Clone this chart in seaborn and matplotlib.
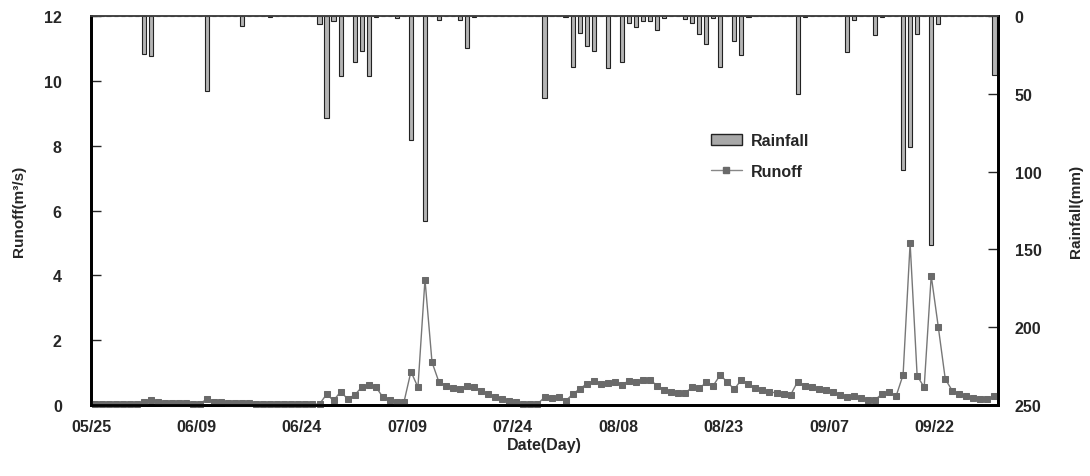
import matplotlib
matplotlib.use("Agg")
import matplotlib.pyplot as plt
from matplotlib.patches import Patch
from matplotlib.lines import Line2D
import seaborn as sns
import numpy as np

# daily series, 05/25 .. 09/30
runoff = [
    0.03, 0.03, 0.03, 0.03, 0.03, 0.03, 0.04, 0.09, 0.17, 0.09,
    0.07, 0.06, 0.05, 0.05, 0.04, 0.04, 0.19, 0.10, 0.08, 0.07,
    0.06, 0.05, 0.05, 0.04, 0.04, 0.04, 0.03, 0.03, 0.03, 0.03,
    0.03, 0.03, 0.03, 0.33, 0.14, 0.41, 0.19, 0.31, 0.55, 0.62,
    0.56, 0.25, 0.14, 0.10, 0.08, 1.03, 0.55, 3.87, 1.32, 0.70,
    0.60, 0.52, 0.49, 0.60, 0.55, 0.44, 0.34, 0.26, 0.19, 0.12,
    0.08, 0.04, 0.03, 0.03, 0.24, 0.21, 0.24, 0.13, 0.33, 0.50,
    0.65, 0.73, 0.65, 0.67, 0.70, 0.62, 0.75, 0.70, 0.78, 0.78,
    0.60, 0.47, 0.41, 0.37, 0.37, 0.55, 0.51, 0.70, 0.60, 0.93,
    0.70, 0.49, 0.78, 0.65, 0.51, 0.47, 0.41, 0.37, 0.34, 0.31,
    0.72, 0.60, 0.55, 0.49, 0.46, 0.41, 0.31, 0.24, 0.29, 0.22,
    0.16, 0.16, 0.34, 0.39, 0.27, 0.93, 4.99, 0.90, 0.55, 3.99,
    2.42, 0.80, 0.44, 0.34, 0.27, 0.22, 0.19, 0.19, 0.27,
]

rainfall = [
    0, 0, 0, 0, 0, 0, 0, 24.4, 25.5, 0,
    0, 0, 0, 0, 0, 0, 48.2, 0, 0, 0,
    0, 6.2, 0, 0, 0, 0.6, 0, 0, 0, 0,
    0, 0, 5.1, 65.3, 3.4, 38.5, 0, 29.3, 22.3, 38.3,
    0.9, 0, 0, 1.5, 0, 79.7, 0, 131.7, 0, 2.8,
    0, 0, 2.4, 20.8, 0.5, 0, 0, 0, 0, 0,
    0, 0, 0, 0, 52.7, 0, 0, 0.5, 33.0, 11.0,
    19.1, 22.3, 0, 33.6, 0, 29.4, 4.5, 7.3, 3.0, 3.4,
    9.0, 1.3, 0, 0, 1.9, 4.5, 11.6, 18.0, 1.3, 32.6,
    0, 15.9, 25.1, 0.5, 0, 0, 0, 0, 0, 0,
    50.1, 0.5, 0, 0, 0, 0, 0, 23.3, 2.4, 0,
    0, 12.0, 0.5, 0, 0, 99.0, 84.4, 11.6, 0, 147.0,
    5.1, 0, 0, 0, 0, 0, 0, 0, 37.9,
]

tick_labels = ["05/25", "06/09", "06/24", "07/09", "07/24",
               "08/08", "08/23", "09/07", "09/22"]

sns.set_style("ticks")
plt.rcParams['font.family'] = ['Liberation Sans', 'DejaVu Sans']
plt.rcParams['font.weight'] = 'bold'

day = np.arange(len(runoff))
xpos = day + 0.5  # category centres

fig = plt.figure(figsize=(10.9, 4.77), dpi=100)
ax = fig.add_axes([0.0835, 0.1488, 0.8321, 0.8156])
ax2 = ax.twinx()

# rainfall bars hanging from the top (inverted right axis)
sns.barplot(x=xpos, y=rainfall, native_scale=True, width=0.6, color='#b4b4b4',
            saturation=1, edgecolor='#222222', linewidth=0.8, ax=ax2)
ax2.set_ylim(250, 0)
ax2.set_yticks(np.arange(0, 251, 50))

# runoff line
sns.lineplot(x=xpos, y=runoff, ax=ax, color='#777777', linewidth=1,
             marker='s', markersize=5, markerfacecolor='#6a6a6a',
             markeredgecolor='#6a6a6a', clip_on=False, zorder=5)
ax.set_ylim(0, 12)
ax.set_yticks(np.arange(0, 13, 2))

ax.set_xlim(0, len(runoff))
ax.set_xticks(np.arange(0, 121, 15))
ax.set_xticklabels(tick_labels)

ax.set_xlabel('Date(Day)', fontsize=11.5, fontweight='bold', labelpad=2)
ax.set_ylabel('Runoff(m³/s)', fontsize=11, fontweight='bold', labelpad=13)
ax2.set_ylabel('Rainfall(mm)', fontsize=11, fontweight='bold', labelpad=20)

ax.tick_params(axis='y', direction='in', length=7, width=1, labelsize=11.5, pad=21)
ax2.tick_params(axis='y', direction='in', length=7, width=1, labelsize=11.5, pad=12)
ax.tick_params(axis='x', length=0, labelsize=11.5, pad=10)
ax2.tick_params(axis='x', length=0, labelbottom=False)
for a in (ax, ax2):
    for lab in a.get_xticklabels() + a.get_yticklabels():
        lab.set_fontweight('bold')
    for s in ('left', 'right', 'bottom'):
        a.spines[s].set_linewidth(2)
        a.spines[s].set_color('black')
    a.spines['top'].set_linewidth(1.2)
    a.spines['top'].set_color('#444444')
ax2.set_xlabel('')

handles = [
    Patch(facecolor='#a8a8a8', edgecolor='#222222', linewidth=1, label='Rainfall'),
    Line2D([0], [0], color='#888888', lw=1, marker='s', markersize=5,
           markerfacecolor='#6a6a6a', markeredgecolor='#6a6a6a', label='Runoff'),
]
leg = ax2.legend(handles=handles, loc='center left', bbox_to_anchor=(0.668, 0.64),
                 frameon=False, fontsize=11.5, handlelength=1.9, labelspacing=1.0,
                 handletextpad=0.6)
for t in leg.get_texts():
    t.set_fontweight('bold')

fig.savefig('out.png', dpi=100)
